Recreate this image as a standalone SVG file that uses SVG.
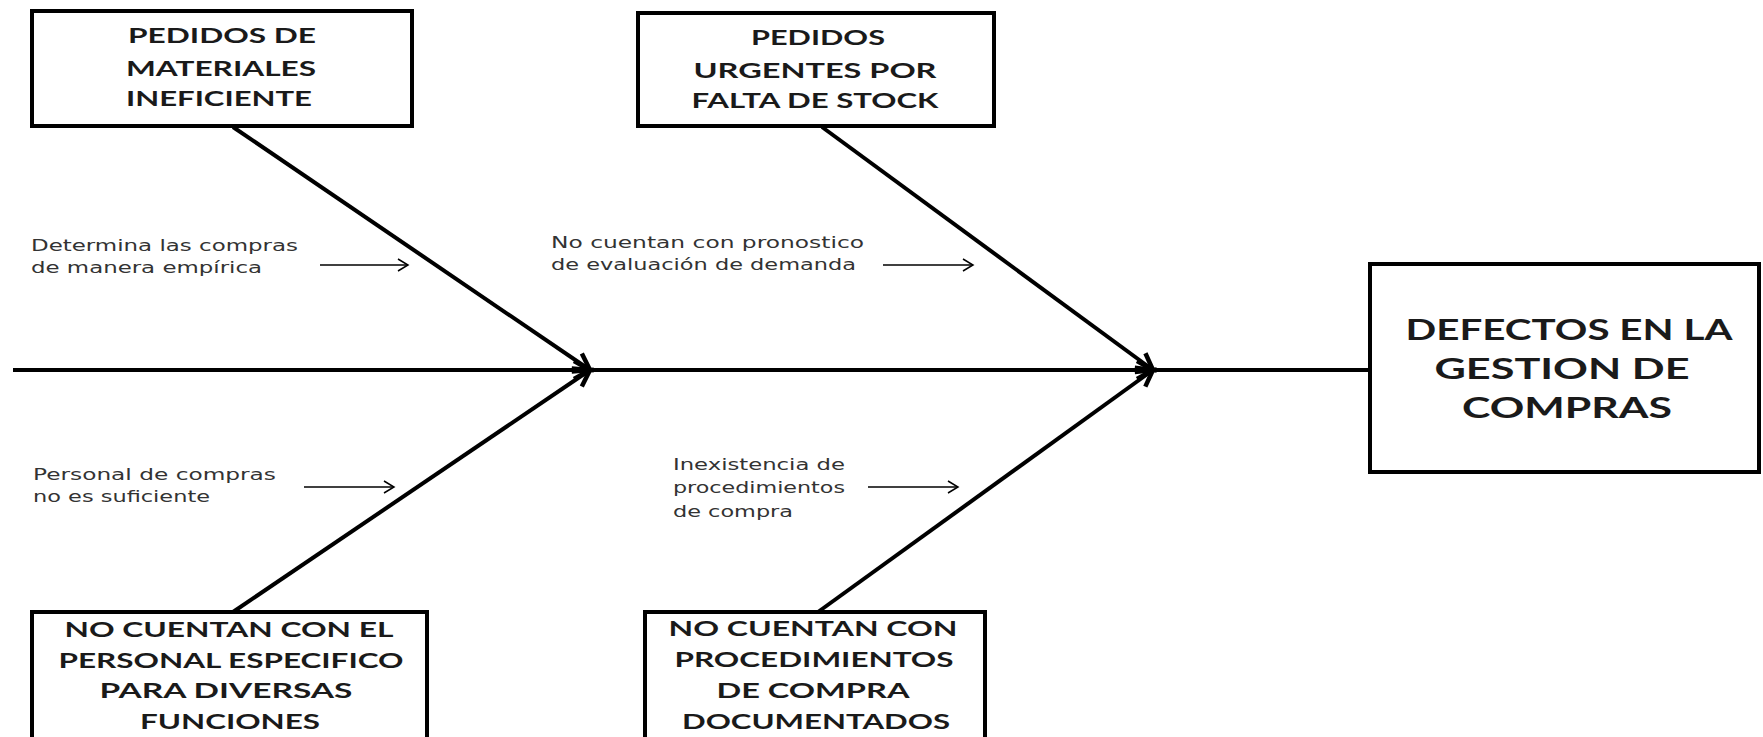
<svg xmlns="http://www.w3.org/2000/svg" width="1763" height="737" viewBox="0 0 1763 737">
<style>
.box{fill:#fff;stroke:#000;stroke-width:4}
.bt{font-family:Lato,"Open Sans","Liberation Sans",sans-serif;font-weight:700;font-size:20px;fill:#1a1a1a;text-anchor:middle}
.big{font-size:28px}
.st{font-family:"DejaVu Sans","Liberation Sans",sans-serif;font-size:15px;fill:#333}
.bone{stroke:#000;stroke-width:4;fill:none}
.sa{stroke:#000;stroke-width:1.5;fill:none}
</style>
<defs>
<marker id="head" markerUnits="userSpaceOnUse" markerWidth="40" markerHeight="40" refX="0" refY="0" viewBox="-20 -20 40 40" orient="auto" overflow="visible">
<path d="M-16,-9 L0,0 L-16,9" fill="none" stroke="#000" stroke-width="4.5" stroke-linejoin="miter"/>
</marker>
<marker id="small" markerUnits="userSpaceOnUse" markerWidth="20" markerHeight="20" refX="0" refY="0" viewBox="-10 -10 20 20" orient="auto" overflow="visible">
<path d="M-10,-6 L0,0 L-10,6" fill="none" stroke="#000" stroke-width="1.5"/>
</marker>
</defs>
<g id="connectors">
<line class="bone" x1="13" y1="370" x2="590" y2="370" marker-end="url(#head)"/>
<line class="bone" x1="590" y1="370" x2="1153" y2="370" marker-end="url(#head)"/>
<line class="bone" x1="1153" y1="370" x2="1370" y2="370"/>
<line class="bone" x1="233" y1="127" x2="590" y2="370" marker-end="url(#head)"/>
<line class="bone" x1="233" y1="612" x2="590" y2="370" marker-end="url(#head)"/>
<line class="bone" x1="822" y1="127" x2="1153" y2="370" marker-end="url(#head)"/>
<line class="bone" x1="818" y1="612" x2="1153" y2="370" marker-end="url(#head)"/>
<line class="sa" x1="320" y1="265" x2="408" y2="265" marker-end="url(#small)"/>
<line class="sa" x1="883" y1="265" x2="973" y2="265" marker-end="url(#small)"/>
<line class="sa" x1="304" y1="487" x2="394" y2="487" marker-end="url(#small)"/>
<line class="sa" x1="868" y1="487" x2="958" y2="487" marker-end="url(#small)"/>
</g>
<g id="n1">
<rect class="box" x="32" y="11" width="380" height="115"/>
<text class="bt" x="222" y="43" textLength="188" lengthAdjust="spacingAndGlyphs">PEDIDOS DE</text>
<text class="bt" x="221" y="76" textLength="190" lengthAdjust="spacingAndGlyphs">MATERIALES</text>
<text class="bt" x="219" y="106" textLength="186" lengthAdjust="spacingAndGlyphs">INEFICIENTE</text>
</g>
<g id="n2">
<rect class="box" x="638" y="13" width="356" height="113"/>
<text class="bt" x="818" y="45" textLength="134" lengthAdjust="spacingAndGlyphs">PEDIDOS</text>
<text class="bt" x="815" y="78" textLength="243" lengthAdjust="spacingAndGlyphs">URGENTES  POR</text>
<text class="bt" x="815" y="108" textLength="247" lengthAdjust="spacingAndGlyphs">FALTA DE STOCK</text>
</g>
<g id="n3">
<rect class="box" x="32" y="612" width="395" height="135"/>
<text class="bt" x="229" y="637" textLength="329" lengthAdjust="spacingAndGlyphs">NO CUENTAN  CON EL</text>
<text class="bt" x="231" y="668" textLength="345" lengthAdjust="spacingAndGlyphs">PERSONAL ESPECIFICO</text>
<text class="bt" x="226" y="698" textLength="253" lengthAdjust="spacingAndGlyphs">PARA DIVERSAS</text>
<text class="bt" x="230" y="729" textLength="180" lengthAdjust="spacingAndGlyphs">FUNCIONES</text>
</g>
<g id="n4">
<rect class="box" x="645" y="612" width="340" height="135"/>
<text class="bt" x="813" y="636" textLength="289" lengthAdjust="spacingAndGlyphs">NO CUENTAN  CON</text>
<text class="bt" x="814" y="667" textLength="279" lengthAdjust="spacingAndGlyphs">PROCEDIMIENTOS</text>
<text class="bt" x="813" y="698" textLength="193" lengthAdjust="spacingAndGlyphs">DE COMPRA</text>
<text class="bt" x="816" y="729" textLength="268" lengthAdjust="spacingAndGlyphs">DOCUMENTADOS</text>
</g>
<g id="n5">
<rect class="box" x="1370" y="264" width="389" height="208"/>
<text class="bt big" x="1569" y="340" textLength="327" lengthAdjust="spacingAndGlyphs">DEFECTOS EN LA</text>
<text class="bt big" x="1562" y="379" textLength="255" lengthAdjust="spacingAndGlyphs">GESTION DE</text>
<text class="bt big" x="1567" y="418" textLength="210" lengthAdjust="spacingAndGlyphs">COMPRAS</text>
</g>
<g id="c1">
<text class="st" x="31" y="251" textLength="267" lengthAdjust="spacingAndGlyphs">Determina  las compras</text>
<text class="st" x="31" y="273" textLength="231" lengthAdjust="spacingAndGlyphs">de manera empírica</text>
</g>
<g id="c2">
<text class="st" x="551" y="248" textLength="313" lengthAdjust="spacingAndGlyphs">No cuentan  con  pronostico</text>
<text class="st" x="551" y="270" textLength="305" lengthAdjust="spacingAndGlyphs">de evaluación  de demanda</text>
</g>
<g id="c3">
<text class="st" x="33" y="480" textLength="243" lengthAdjust="spacingAndGlyphs">Personal  de compras</text>
<text class="st" x="33" y="502" textLength="177" lengthAdjust="spacingAndGlyphs">no es suficiente</text>
</g>
<g id="c4">
<text class="st" x="673" y="470" textLength="172" lengthAdjust="spacingAndGlyphs">Inexistencia  de</text>
<text class="st" x="673" y="493" textLength="172" lengthAdjust="spacingAndGlyphs">procedimientos</text>
<text class="st" x="673" y="517" textLength="120" lengthAdjust="spacingAndGlyphs">de compra</text>
</g>
</svg>
